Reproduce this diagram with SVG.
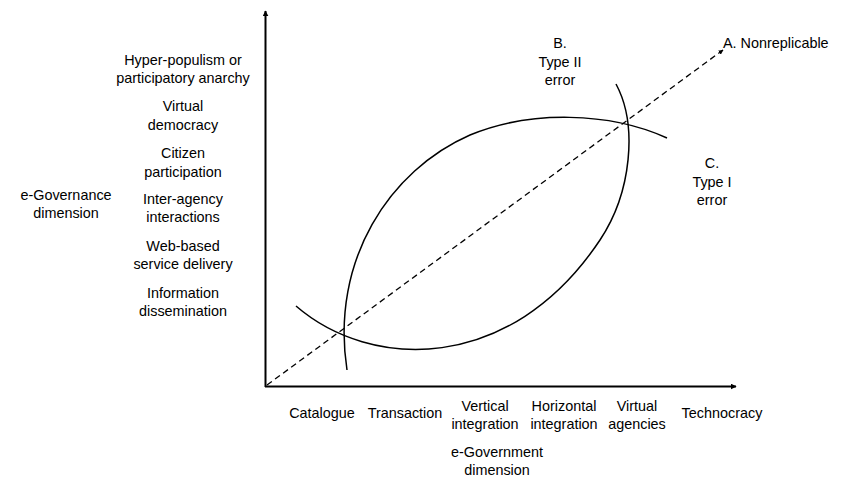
<svg xmlns="http://www.w3.org/2000/svg" width="841" height="478" viewBox="0 0 841 478">
<defs>
<marker id="ah" viewBox="0 0 10 10" refX="9" refY="5" markerWidth="6" markerHeight="6" markerUnits="userSpaceOnUse" orient="auto">
<path d="M0,0 L10,5 L0,10 z" fill="#000"/>
</marker>
<marker id="ahs" viewBox="0 0 10 10" refX="9" refY="5" markerWidth="5" markerHeight="5" markerUnits="userSpaceOnUse" orient="auto">
<path d="M0,0 L10,5 L0,10 z" fill="#000"/>
</marker>
</defs>
<style>
text{font-family:"Liberation Sans",Arial,sans-serif;font-size:14.4px;fill:#000;text-anchor:middle}
.ax{stroke:#000;stroke-width:2;fill:none}
.arc{stroke:#000;stroke-width:1.5;fill:none}
.dash{stroke:#000;stroke-width:1.3;fill:none;stroke-dasharray:6 4}
</style>
<rect width="841" height="478" fill="#fff"/>
<g id="connectors">
<line class="ax" x1="265.5" y1="387" x2="265.5" y2="11" marker-end="url(#ah)"/>
<line class="ax" x1="265" y1="386.5" x2="736" y2="386.5" marker-end="url(#ah)"/>
<line class="dash" x1="267" y1="385" x2="723" y2="50" marker-end="url(#ahs)"/>
<path id="arc-upper" class="arc" d="M347,370 C330,260 390,170 470,135 C530,110 610,112 667,138"/>
<path id="arc-lower" class="arc" d="M296,306 C370,370 510,375 600,240 C631.5,192.75 638,125 616,84"/>
</g>
<g id="y-labels">
<text x="183" y="65">Hyper-populism or</text>
<text x="183" y="83">participatory anarchy</text>
<text x="183" y="111">Virtual</text>
<text x="183" y="130">democracy</text>
<text x="183" y="158">Citizen</text>
<text x="183" y="177">participation</text>
<text x="183" y="204">Inter-agency</text>
<text x="183" y="222">interactions</text>
<text x="183" y="251">Web-based</text>
<text x="183" y="269">service delivery</text>
<text x="183" y="298">Information</text>
<text x="183" y="316">dissemination</text>
</g>
<g id="y-title">
<text x="66" y="200">e-Governance</text>
<text x="66" y="218">dimension</text>
</g>
<g id="x-labels">
<text x="322" y="418">Catalogue</text>
<text x="405" y="418">Transaction</text>
<text x="485" y="411">Vertical</text>
<text x="485" y="429">integration</text>
<text x="564" y="411">Horizontal</text>
<text x="564" y="429">integration</text>
<text x="637" y="411">Virtual</text>
<text x="637" y="429">agencies</text>
<text x="722" y="418">Technocracy</text>
</g>
<g id="x-title">
<text x="497" y="457">e-Government</text>
<text x="497" y="475">dimension</text>
</g>
<g id="label-a"><text x="723" y="48" style="text-anchor:start">A. Nonreplicable</text></g>
<g id="label-b">
<text x="560" y="48">B.</text>
<text x="560" y="67">Type II</text>
<text x="560" y="85">error</text>
</g>
<g id="label-c">
<text x="712" y="168">C.</text>
<text x="712" y="187">Type I</text>
<text x="712" y="205">error</text>
</g>
</svg>
